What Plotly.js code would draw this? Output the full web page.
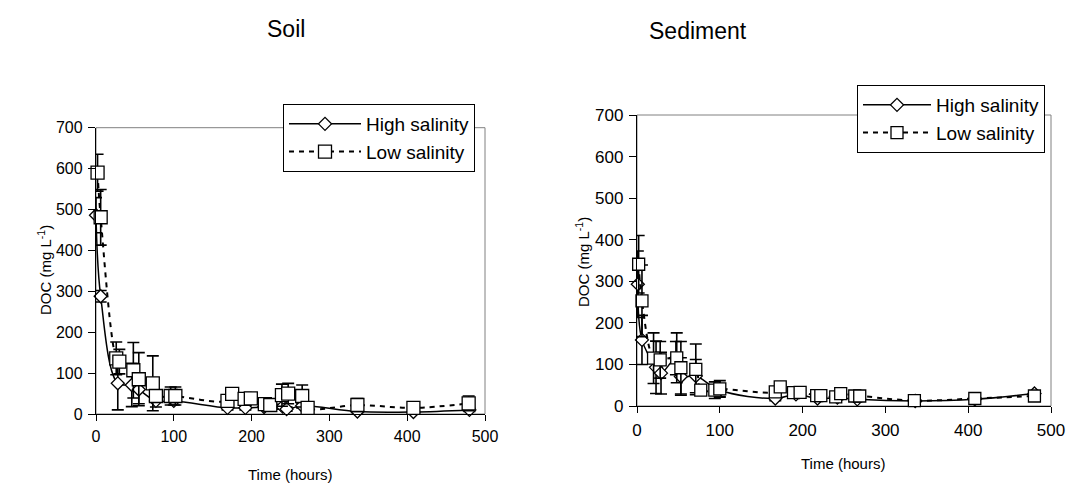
<!DOCTYPE html>
<html>
<head>
<meta charset="utf-8">
<script src="https://cdn.plot.ly/plotly-3.0.1.min.js"></script>
<style>html,body{margin:0;padding:0;background:#fff;}#chart{width:1071px;height:484px;}</style>
</head>
<body>
<div id="chart"></div>
<script>
// Soil
var soilHighX = [0, 6, 28, 46, 55, 77, 100, 169, 192, 216, 240, 245, 265, 336, 408, 480];
var soilHighY = [486, 288, 75, 71, 60, 32, 32, 15, 15, 17, 18, 12, 20, 6, 5, 10];
var soilHighErr = [43, 14, 65, 53, 35, 15, 10, 5, 5, 5, 6, 5, 5, 3, 3, 4];
var soilLowX = [2, 6, 26, 30, 48, 55, 73, 77, 96, 102, 169, 175, 191, 199, 217, 224, 239, 247, 265, 272, 336, 408, 479];
var soilLowY = [590, 481, 136, 128, 107, 85, 75, 44, 44, 44, 32, 49, 37, 38, 24, 22, 46, 50, 44, 15, 22, 15, 26];
var soilLowErr = [45, 68, 40, 30, 68, 65, 67, 10, 22, 22, 5, 6, 5, 5, 4, 4, 27, 25, 27, 5, 16, 4, 18];
// Sediment
var sedHighX = [1, 6, 23, 29, 47, 53, 71, 100, 167, 192, 218, 242, 266, 336, 408, 480];
var sedHighY = [293, 159, 93, 79, 115, 71, 72, 38, 18, 28, 18, 20, 16, 12, 16, 30];
var sedHighErr = [80, 59, 63, 50, 40, 45, 40, 15, 5, 5, 5, 5, 5, 3, 3, 5];
var sedLowX = [2, 6, 20, 28, 48, 53, 71, 77, 94, 100, 167, 173, 189, 197, 217, 222, 240, 246, 263, 269, 335, 408, 480];
var sedLowY = [341, 253, 115, 111, 116, 92, 88, 38, 38, 41, 34, 46, 32, 33, 25, 25, 22, 30, 24, 24, 13, 18, 24];
var sedLowErr = [69, 86, 61, 44, 60, 63, 61, 12, 20, 20, 5, 6, 5, 5, 4, 4, 4, 5, 4, 4, 3, 4, 5];

var seriesNames = ["High salinity", "Low salinity"];
var panelTitles = ["Soil", "Sediment"];
var xTitle = "Time (hours)";
var yTitle = "DOC (mg L<sup>-1</sup>)";
var xTicks = [0, 100, 200, 300, 400, 500];
var yTicks = [0, 100, 200, 300, 400, 500, 600, 700];

var FONT = "Arial, 'Liberation Sans', sans-serif";

function highTrace(x, y, e, xa, ya, leg, msize) {
  return {
    type: "scatter", mode: "lines+markers", name: seriesNames[0],
    x: x, y: y, xaxis: xa, yaxis: ya, legend: leg, cliponaxis: false,
    line: {color: "#000", width: 1.5, shape: "spline", smoothing: 1},
    marker: {symbol: "diamond", size: msize, color: "#fff", line: {color: "#000", width: 1.3}},
    error_y: {type: "data", array: e, visible: true, color: "#000", thickness: 1.6, width: 6}
  };
}
function lowTrace(x, y, e, xa, ya, leg, msize) {
  return {
    type: "scatter", mode: "lines+markers", name: seriesNames[1],
    x: x, y: y, xaxis: xa, yaxis: ya, legend: leg, cliponaxis: false,
    line: {color: "#000", width: 2, dash: "5px,5px", shape: "spline", smoothing: 1},
    marker: {symbol: "square", size: msize, color: "#fff", line: {color: "#000", width: 1.3}},
    error_y: {type: "data", array: e, visible: true, color: "#000", thickness: 1.6, width: 6}
  };
}

var data = [
  highTrace(soilHighX, soilHighY, soilHighErr, "x", "y", "legend", 10),
  lowTrace(soilLowX, soilLowY, soilLowErr, "x", "y", "legend", 13),
  highTrace(sedHighX, sedHighY, sedHighErr, "x2", "y2", "legend2", 10),
  lowTrace(sedLowX, sedLowY, sedLowErr, "x2", "y2", "legend2", 12)
];

function xax(dom, anchor, fs) {
  return {domain: dom, anchor: anchor, range: [0, 500], tickvals: xTicks, ticks: "outside", ticklen: 6,
    tickcolor: "#000", showline: true, linecolor: "#000", linewidth: 1.2, showgrid: false, zeroline: false,
    ticklabelstandoff: 2,
    tickfont: {family: FONT, size: fs, color: "#000"}, fixedrange: true};
}
function yax(dom, anchor, fs) {
  return {domain: dom, anchor: anchor, range: [0, 700], tickvals: yTicks, ticks: "outside", ticklen: 7,
    tickcolor: "#000", showline: true, linecolor: "#000", linewidth: 1.2, showgrid: false, zeroline: false,
    ticklabelstandoff: 2,
    tickfont: {family: FONT, size: fs, color: "#000"}, fixedrange: true};
}

var W = 1071, H = 484;
function px(v) { return v / W; }
function py(v) { return 1 - v / H; }

function ann(text, x, y, size, angle) {
  return {text: text, xref: "paper", yref: "paper", x: px(x), y: py(y), xanchor: "center", yanchor: "middle",
    textangle: angle || 0, showarrow: false, font: {family: FONT, size: size, color: "#000"}};
}

var layout = {
  width: W, height: H,
  margin: {l: 0, r: 0, t: 0, b: 0},
  paper_bgcolor: "#fff", plot_bgcolor: "#fff",
  showlegend: true,
  xaxis: xax([px(96), px(485)], "y", 16),
  yaxis: yax([py(414), py(127.7)], "x", 16),
  xaxis2: xax([px(637), px(1051)], "y2", 17),
  yaxis2: yax([py(406), py(115)], "x2", 17),
  legend: {x: px(283), y: py(104), xanchor: "left", yanchor: "top", bgcolor: "#fff",
    bordercolor: "#000", borderwidth: 1, itemwidth: 72, tracegroupgap: 2,
    font: {family: FONT, size: 19, color: "#000"}},
  legend2: {x: px(857), y: py(85), xanchor: "left", yanchor: "top", bgcolor: "#fff",
    bordercolor: "#000", borderwidth: 1, itemwidth: 68, tracegroupgap: 2,
    font: {family: FONT, size: 19, color: "#000"}},
  shapes: [
    {type: "rect", xref: "x domain", yref: "y domain", x0: 0, x1: 1, y0: 0, y1: 1, line: {color: "#808080", width: 1}, layer: "below"},
    {type: "rect", xref: "x2 domain", yref: "y2 domain", x0: 0, x1: 1, y0: 0, y1: 1, line: {color: "#808080", width: 1}, layer: "below"}
  ],
  annotations: [
    ann(panelTitles[0], 286, 29, 23),
    ann(panelTitles[1], 698, 31, 23),
    ann(yTitle, 44, 270, 15, -90),
    ann(yTitle, 582, 262, 15, -90),
    ann(xTitle, 290, 474, 15),
    ann(xTitle, 843, 463, 15)
  ]
};

Plotly.newPlot("chart", data, layout, {displayModeBar: false, staticPlot: true});
</script>
</body>
</html>
